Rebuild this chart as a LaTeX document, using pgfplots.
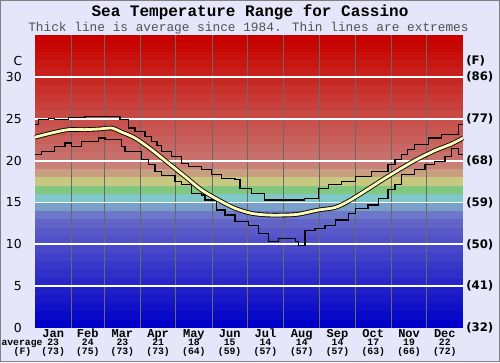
\documentclass[border=0pt]{standalone}
\usepackage{fontspec}
\usepackage{pgfplots}
\pgfplotsset{compat=1.18}
\setmainfont{DejaVu Sans}
\newfontfamily\mono{Liberation Mono}
\definecolor{bgl}{RGB}{230,230,250}
\definecolor{avgy}{RGB}{255,255,185}
\definecolor{vgrid}{RGB}{105,105,105}
\newcommand\band[4]{\fill[fill={rgb,255:red,#2;green,#3;blue,#4}] (axis cs:0,#1) rectangle (axis cs:365,#1+1);}
\newcommand\mavg[3]{%
  \node[font=\mono\bfseries\fontsize{7.3}{8}\selectfont, anchor=center, inner sep=0pt, text height=4.4pt, text depth=0pt] at (axis cs:#1,0) [yshift=-11.25pt] {#2};
  \node[font=\mono\bfseries\fontsize{7.3}{8}\selectfont, anchor=center, inner sep=0pt, text height=4.4pt, text depth=0pt] at (axis cs:#1,0) [yshift=-18pt] {(#3)};}
\begin{document}
\begin{tikzpicture}
\fill[bgl] (-26.25pt,-25.5pt) rectangle (348.75pt,246pt);
\draw[gray, line width=0.75pt] (-25.875pt,-25.125pt) rectangle (348.375pt,245.625pt);
\node[font=\mono\bfseries\fontsize{12}{14}\selectfont] at (161.25pt,237pt) {Sea Temperature Range for Cassino};
\node[font=\mono\fontsize{9.6}{11}\selectfont, text={rgb,255:red,80;green,80;blue,80}] at (160.1pt,225pt) {Thick line is average since 1984. Thin lines are extremes};
\begin{axis}[at={(0pt,0pt)}, anchor=south west, scale only axis,
  width=321pt, height=219.75pt,
  xmin=0, xmax=365, ymin=0, ymax=35, clip=false,
  axis line style={draw=none}, major tick length=0pt,
  /pgf/number format/assume math mode=true,
  ytick={0,5,...,30},
  yticklabel style={font=\fontsize{9.3}{11}\selectfont, anchor=east, inner sep=0pt, xshift=-9.75pt},
  xtick={15.5,45,74.5,105,135.5,166,196.5,227.5,258,288.5,319,349.5},
  xticklabels={Jan,Feb,Mar,Apr,May,Jun,Jul,Aug,Sep,Oct,Nov,Dec},
  xticklabel style={font=\mono\bfseries\fontsize{9}{10}\selectfont, anchor=center, inner sep=0pt, text height=5.2pt, text depth=0pt, yshift=-4.5pt},
]
\band{0}{0}{0}{200}\band{1}{8}{8}{200}\band{2}{16}{16}{200}\band{3}{24}{24}{200}
\band{4}{32}{32}{200}\band{5}{40}{40}{200}\band{6}{48}{48}{200}\band{7}{56}{56}{200}
\band{8}{64}{64}{200}\band{9}{72}{72}{200}\band{10}{80}{80}{200}\band{11}{88}{88}{200}
\band{12}{98}{100}{200}\band{13}{110}{120}{200}\band{14}{120}{160}{200}\band{15}{128}{200}{200}
\band{16}{128}{200}{128}\band{17}{200}{200}{128}\band{18}{200}{160}{128}\band{19}{200}{128}{120}
\band{20}{200}{112}{108}\band{21}{200}{104}{100}\band{22}{200}{96}{92}\band{23}{200}{88}{84}
\band{24}{200}{80}{76}\band{25}{200}{72}{68}\band{26}{200}{64}{60}\band{27}{200}{56}{52}
\band{28}{200}{48}{44}\band{29}{200}{40}{36}\band{30}{200}{32}{28}\band{31}{200}{24}{20}
\band{32}{200}{16}{12}\band{33}{200}{8}{4}\band{34}{200}{0}{0}
\draw[vgrid, line width=0.75pt] (axis cs:31,0)--(axis cs:31,35) (axis cs:59,0)--(axis cs:59,35) (axis cs:90,0)--(axis cs:90,35) (axis cs:120,0)--(axis cs:120,35) (axis cs:151,0)--(axis cs:151,35) (axis cs:181,0)--(axis cs:181,35) (axis cs:212,0)--(axis cs:212,35) (axis cs:243,0)--(axis cs:243,35) (axis cs:273,0)--(axis cs:273,35) (axis cs:304,0)--(axis cs:304,35) (axis cs:334,0)--(axis cs:334,35);
\draw[white, line width=1.4pt] (axis cs:0,5)--(axis cs:365,5) (axis cs:0,10)--(axis cs:365,10) (axis cs:0,15)--(axis cs:365,15) (axis cs:0,20)--(axis cs:365,20) (axis cs:0,25)--(axis cs:365,25) (axis cs:0,30)--(axis cs:365,30);
% maximum
\addplot[black, line width=0.85pt, const plot, mark=none] coordinates {
(0,24.3)(2.8,24.9)(11.4,25.0)(17,24.9)(28.4,25.2)(42.6,25.3)(72.5,24.9)(79.6,23.9)(85.3,23.5)(93.8,22.9)(99.5,22.3)(104,21.8)(108,21.1)(116.6,20.5)(125,19.7)(130.8,19.3)(142,18.9)(150.7,18.3)(159,17.9)(170.6,17.7)(174.8,16.7)(185,16.1)(196,15.3)(230,15.5)(241.7,16.7)(250,17.1)(261.6,17.5)(273,18.1)(287,18.7)(301,19.5)(307,20.1)(312.7,20.7)(318,21.3)(324,21.9)(335.5,22.7)(346.8,23.1)(361,24.3)(365,24.3)};
% minimum
\addplot[black, line width=0.85pt, const plot, mark=none] coordinates {
(0,20.7)(5.7,21.1)(17,21.7)(25.6,22.1)(31.3,21.7)(39.8,22.3)(54,22.7)(59.7,22.5)(73.9,21.7)(76.8,21.1)(91,20.1)(96.7,19.5)(102.3,18.7)(108,18.2)(119.4,17.5)(125,17.1)(133.6,16.1)(142,15.9)(145,15.3)(155,14.1)(162,13.5)(170.6,12.7)(182,12.3)(190.5,11.3)(199,10.3)(207.5,10.7)(221.8,10.3)(224.6,9.9)(230.3,11.7)(238.8,11.9)(247.3,12.3)(255.9,12.9)(267,13.7)(273,14.3)(284,14.7)(292.8,15.5)(301,16.5)(307,17.1)(312.7,18.3)(324,18.9)(332.6,19.5)(341,19.9)(349.7,20.5)(355.4,21.5)(361,20.7)(365,20.7)};
% average
\addplot[black, line width=3.4pt, smooth, mark=none] coordinates {
(0,22.8)(14.2,23.3)(28.4,23.7)(42.6,23.7)(56.9,23.8)(65.4,23.9)(74,23.4)(85.3,22.7)(99.5,21.3)(113.7,19.7)(128,18.1)(142,16.5)(156.4,15.3)(170.6,14.3)(184.8,13.7)(199,13.5)(213,13.5)(224.6,13.6)(241.7,14.1)(255.9,14.4)(268,15.2)(284,16.6)(298.5,17.9)(312.7,19.1)(325,20.1)(341,21.2)(355.4,22.0)(365,22.7)};
\addplot[avgy, line width=2.1pt, smooth, mark=none] coordinates {
(0,22.8)(14.2,23.3)(28.4,23.7)(42.6,23.7)(56.9,23.8)(65.4,23.9)(74,23.4)(85.3,22.7)(99.5,21.3)(113.7,19.7)(128,18.1)(142,16.5)(156.4,15.3)(170.6,14.3)(184.8,13.7)(199,13.5)(213,13.5)(224.6,13.6)(241.7,14.1)(255.9,14.4)(268,15.2)(284,16.6)(298.5,17.9)(312.7,19.1)(325,20.1)(341,21.2)(355.4,22.0)(365,22.7)};
\mavg{15.5}{23}{73}\mavg{45}{24}{75}\mavg{74.5}{23}{73}\mavg{105}{21}{73}
\mavg{135.5}{18}{64}\mavg{166}{15}{59}\mavg{196.5}{14}{57}\mavg{227.5}{14}{57}
\mavg{258}{14}{57}\mavg{288.5}{17}{63}\mavg{319}{19}{66}\mavg{349.5}{22}{72}
\end{axis}
\node[font=\fontsize{9.3}{11}\selectfont] at (-12.75pt,200.25pt) {C};
\begin{scope}[every node/.style={font=\bfseries\fontsize{8.8}{10}\selectfont, anchor=west, inner sep=0pt}]
\node at (323.25pt,200.25pt) {(F)};
\node at (323.25pt,188.36pt) {(86)};
\node at (323.25pt,156.96pt) {(77)};
\node at (323.25pt,125.57pt) {(68)};
\node at (323.25pt,94.18pt) {(59)};
\node at (323.25pt,62.79pt) {(50)};
\node at (323.25pt,31.39pt) {(41)};
\node at (323.25pt,0pt) {(32)};
\end{scope}
\node[font=\mono\bfseries\fontsize{7.3}{8}\selectfont, inner sep=0pt, text height=4.4pt, text depth=0pt] at (-9.75pt,-11.25pt) {average};
\node[font=\mono\bfseries\fontsize{7.3}{8}\selectfont, inner sep=0pt, text height=4.4pt, text depth=0pt] at (-9.4pt,-18pt) {(F)};
\end{tikzpicture}
\end{document}
